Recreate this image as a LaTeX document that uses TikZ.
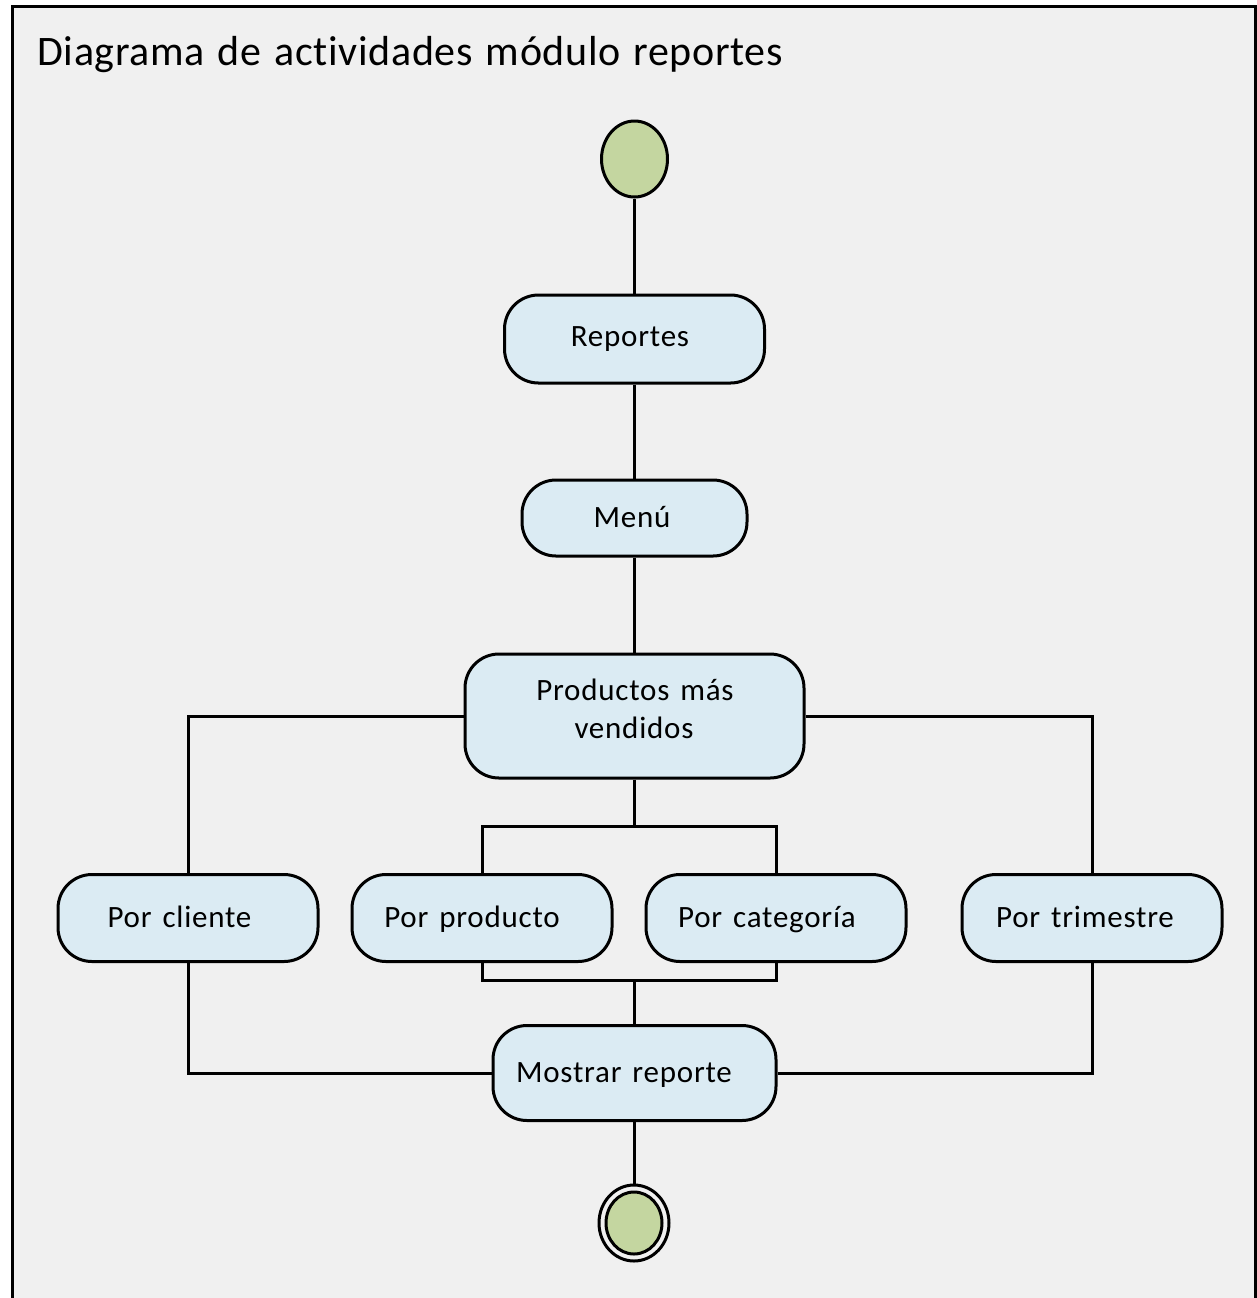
\documentclass[tikz,border=0pt]{standalone}
\usepackage{fontspec}
\setmainfont{Carlito}
\newfontfamily\titlefont[LetterSpace=1.5,WordSpace=1.3,Ligatures=NoCommon]{Carlito}
\newfontfamily\actfont[LetterSpace=2.5,WordSpace=1.4,Ligatures=NoCommon]{Carlito}
\usetikzlibrary{shapes.geometric}
\definecolor{panel}{HTML}{F0F0F0}
\definecolor{actfill}{HTML}{DBEBF3}
\definecolor{statefill}{HTML}{C4D6A0}
\tikzset{
  act/.style={draw=black, line width=1.5pt, fill=actfill, rounded corners=17pt, inner sep=0pt},
  lbl/.style={anchor=base, inner sep=0pt, font=\actfont\fontsize{15.5}{18}\selectfont},
  state/.style={ellipse, draw=black, line width=1.5pt, fill=statefill, inner sep=0pt},
  flow/.style={draw=black, line width=1.5pt},
}
\begin{document}
\begin{tikzpicture}[x=0.5pt, y=-0.5pt]
\useasboundingbox (0,0) rectangle (1257,1298);
% frame of the diagram, open at the bottom
\fill[panel] (12,6) rectangle (1255,1298);
\draw[line width=1.5pt] (12,1300) -- (12,6) -- (1255,6) -- (1255,1300);
\node[anchor=base west, inner sep=0pt, font=\titlefont\fontsize{21}{25}\selectfont] (title) at (37,65) {Diagrama de actividades módulo reportes};

% activity shapes
\node[state, minimum width=33pt, minimum height=38pt] (start) at (634.5,159) {};
\node[act, minimum width=130pt, minimum height=44pt] (rep) at (634.5,339) {};
\node[act, minimum width=112.5pt, minimum height=38pt] (menu) at (634.5,518) {};
\node[act, minimum width=169.5pt, minimum height=62pt] (prod) at (634.5,716) {};
\node[act, minimum width=130pt, minimum height=43.5pt] (cli) at (188,918) {};
\node[act, minimum width=130pt, minimum height=43.5pt] (pprod) at (482,918) {};
\node[act, minimum width=130pt, minimum height=43.5pt] (pcat) at (776,918) {};
\node[act, minimum width=130pt, minimum height=43.5pt] (tri) at (1092,918) {};
\node[act, minimum width=141.5pt, minimum height=47.5pt] (most) at (634.5,1073) {};
\node[ellipse, draw=black, line width=1.5pt, fill=panel, minimum width=35pt, minimum height=38pt, inner sep=0pt] (endo) at (634,1223) {};
\node[state, minimum width=28pt, minimum height=31pt] (end) at (634,1223) {};

% labels
\node[lbl] (t-rep) at (630,346) {Reportes};
\node[lbl] (t-menu) at (632,527) {Menú};
\node[lbl] (t-prod1) at (635,700) {Productos más};
\node[lbl] (t-prod2) at (634,738) {vendidos};
\node[lbl] (t-cli) at (179.5,927) {Por cliente};
\node[lbl] (t-pprod) at (472,927) {Por producto};
\node[lbl] (t-pcat) at (767,927) {Por categoría};
\node[lbl] (t-tri) at (1085,927) {Por trimestre};
\node[lbl] (t-most) at (624,1082) {Mostrar reporte};

% branch points
\coordinate (fork) at (634.5,826);
\coordinate (join) at (634,980);

% flows
\draw[flow] (start) -- (rep);
\draw[flow] (rep) -- (menu);
\draw[flow] (menu) -- (prod);
\draw[flow] (prod.west) -| (cli.north);
\draw[flow] (prod.east) -| (tri.north);
\draw[flow] (prod.south) -- (fork);
\draw[flow] (pprod.north) |- (fork) -| (pcat.north);
\draw[flow] (pprod.south) |- (join) -| (pcat.south);
\draw[flow] (join) -- (most.north -| join);
\draw[flow] (cli.south) |- (most.west);
\draw[flow] (tri.south) |- (most.east);
\draw[flow] (most.south -| endo) -- (endo.north);
\end{tikzpicture}
\end{document}
